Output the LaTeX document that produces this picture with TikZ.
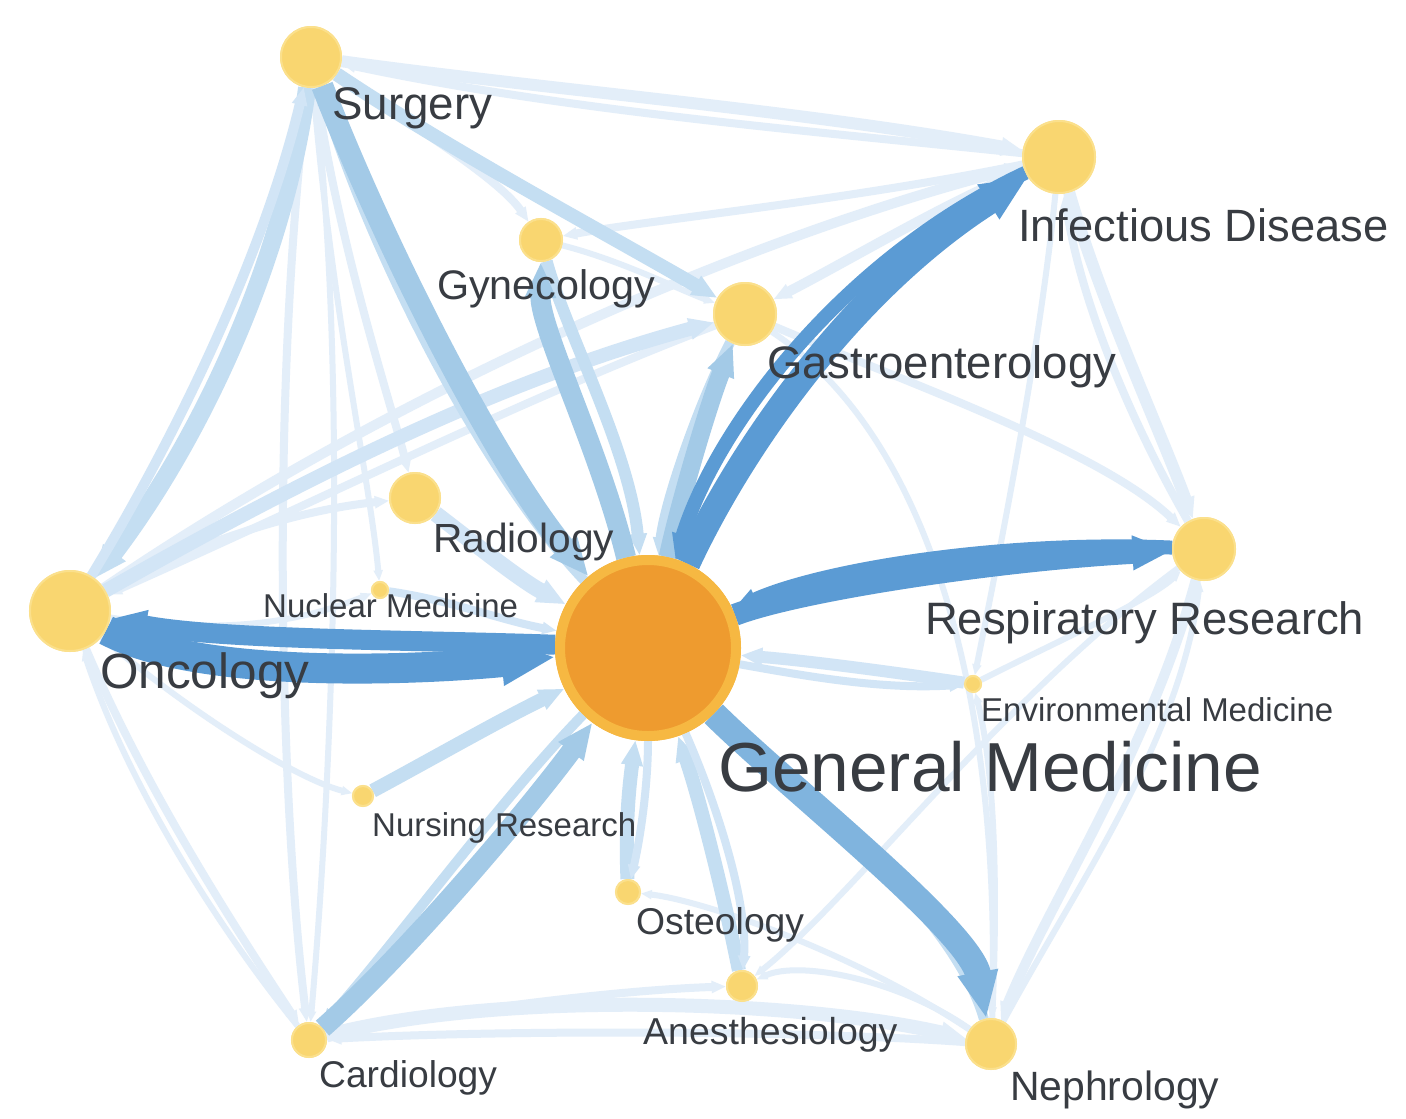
\documentclass[tikz,border=0pt]{standalone}
\usepackage{fontspec}
\setmainfont{Liberation Sans}
\usetikzlibrary{arrows.meta}
\definecolor{sb}{RGB}{91,155,212}
\definecolor{nb}{RGB}{128,180,222}
\definecolor{mb}{RGB}{163,202,231}
\definecolor{lb}{RGB}{196,222,242}
\definecolor{pb}{RGB}{210,229,246}
\definecolor{fb}{RGB}{227,238,249}
\definecolor{nodey}{RGB}{249,214,112}
\definecolor{nodeb}{RGB}{251,224,140}
\definecolor{gmin}{RGB}{238,155,47}
\definecolor{gmring}{RGB}{246,184,66}
\definecolor{txt}{RGB}{56,60,66}
\begin{document}
\begin{tikzpicture}[x=1pt,y=-1pt,
  dot/.style={circle, fill=nodey, draw=nodeb, line width=2pt, inner sep=0pt},
  lab/.style={anchor=base west, text=txt, inner sep=0pt},
  tip/.style={-{Triangle[length=0pt 1.8, width=0pt 1.45]}},
  se/.style={draw=sb, tip},
  ne/.style={draw=nb, tip},
  me/.style={draw=mb, tip},
  le/.style={draw=lb, tip},
  pe/.style={draw=pb, tip},
  fe/.style={draw=fb, tip},
  fs/.style={font=\fontsize{#1}{#1}\selectfont}
]
\useasboundingbox (0,0) rectangle (1406,1119);
\fill[white] (0,0) rectangle (1406,1119);

% nodes (positions)
\node[dot, minimum size=60] (sur) at (311,57) {};
\node[dot, minimum size=72] (id) at (1059,157) {};
\node[dot, minimum size=42] (gyn) at (541,240) {};
\node[dot, minimum size=62] (gas) at (745,314) {};
\node[dot, minimum size=50] (rad) at (415,498) {};
\node[dot, minimum size=62] (rr) at (1204,549) {};
\node[dot, minimum size=80] (onc) at (70,611) {};
\node[dot, minimum size=16] (nuc) at (380,590) {};
\node[dot, minimum size=16] (env) at (973,684) {};
\node[dot, minimum size=20] (nur) at (363,796) {};
\node[dot, minimum size=24] (ost) at (628,892) {};
\node[dot, minimum size=30] (ane) at (742,986) {};
\node[dot, minimum size=34] (car) at (309,1040) {};
\node[dot, minimum size=50] (nep) at (991,1044) {};
\node[circle, fill=gmin, draw=gmring, line width=10pt, minimum size=176, inner sep=0pt] (gm) at (648,648) {};

% faint peripheral edges
\draw[fe, line width=12pt] (sur) .. controls (550,90) and (800,110) .. (id);
\draw[fe, line width=8pt] (id) .. controls (800,130) and (560,110) .. (sur);
\draw[fe, line width=10pt] (onc) .. controls (350,420) and (700,250) .. (id);
\draw[fe, line width=8pt] (onc) .. controls (150,800) and (250,950) .. (car);
\draw[fe, line width=6pt] (car) .. controls (220,930) and (130,790) .. (onc);
\draw[fe, line width=8pt] (sur) .. controls (270,400) and (280,800) .. (car);
\draw[fe, line width=6pt] (sur) .. controls (350,400) and (330,800) .. (car);
\draw[fe, line width=12pt] (id) .. controls (1100,300) and (1160,430) .. (rr);
\draw[fe, line width=8pt] (rr) .. controls (1130,420) and (1080,300) .. (id);
\draw[fe, line width=10pt] (rr) .. controls (1150,750) and (1050,900) .. (nep);
\draw[fe, line width=6pt] (nep) .. controls (1080,880) and (1180,740) .. (rr);
\draw[fe, line width=14pt] (car) .. controls (500,990) and (800,1000) .. (nep);
\draw[fe, line width=8pt] (nep) .. controls (800,1030) and (500,1030) .. (car);
\draw[fe, line width=8pt] (car) .. controls (450,1010) and (620,990) .. (ane);
\draw[fe, line width=8pt] (sur) .. controls (340,250) and (390,400) .. (rad);
\draw[fe, line width=6pt] (sur) .. controls (330,300) and (370,480) .. (nuc);
\draw[fe, line width=10pt] (id) .. controls (950,200) and (850,260) .. (gas);
\draw[fe, line width=8pt] (gas) .. controls (900,380) and (1100,450) .. (rr);
\draw[fe, line width=8pt] (onc) .. controls (200,540) and (300,510) .. (rad);
\draw[fe, line width=8pt] (id) .. controls (850,200) and (650,220) .. (gyn);
\draw[fe, line width=6pt] (nep) .. controls (900,980) and (800,960) .. (ane);
\draw[fe, line width=6pt] (nep) .. controls (850,950) and (700,900) .. (ost);
\draw[fe, line width=6pt] (nep) .. controls (1000,850) and (990,750) .. (env);
\draw[fe, line width=6pt] (onc) .. controls (200,720) and (300,780) .. (nur);
\draw[fe, line width=8pt] (sur) .. controls (420,130) and (500,180) .. (gyn);
\draw[fe, line width=6pt] (gyn) .. controls (620,260) and (680,290) .. (gas);
\draw[fe, line width=6pt] (env) .. controls (1060,640) and (1150,600) .. (rr);
\draw[fe, line width=6pt] (id) .. controls (1040,350) and (1000,550) .. (env);
\draw[fe, line width=6pt] (rr) .. controls (1000,700) and (850,900) .. (ane);
\draw[fe, line width=6pt] (gas) .. controls (950,450) and (1000,750) .. (nep);
\draw[fe, line width=6pt] (onc) .. controls (250,640) and (330,610) .. (nuc);
\draw[fe, line width=8pt] (gas) .. controls (520,400) and (320,500) .. (onc);

% light / medium peripheral edges
\draw[le, line width=18pt] (sur) .. controls (285,260) and (200,440) .. (onc);
\draw[pe, line width=10pt] (onc) .. controls (180,430) and (265,250) .. (sur);
\draw[le, line width=14pt] (sur) .. controls (450,150) and (600,230) .. (gas);
\draw[pe, line width=14pt] (onc) .. controls (300,480) and (500,380) .. (gas);

% edges to/from General Medicine
\draw[pe, line width=8pt] (nuc) .. controls (450,600) and (500,620) .. (gm);
\draw[pe, line width=16pt] (rad) .. controls (470,540) and (520,580) .. (gm);
\draw[le, line width=14pt] (nur) .. controls (430,760) and (500,720) .. (gm);
\draw[le, line width=14pt] (ost) .. controls (625,820) and (630,780) .. (gm);
\draw[pe, line width=8pt] (gm) .. controls (648,780) and (642,830) .. (ost);
\draw[le, line width=14pt] (ane) .. controls (725,900) and (700,800) .. (gm);
\draw[pe, line width=8pt] (gm) .. controls (715,800) and (748,900) .. (ane);
\draw[pe, line width=12pt] (env) .. controls (880,670) and (800,660) .. (gm);
\draw[pe, line width=8pt] (gm) .. controls (800,675) and (880,690) .. (env);

\draw[le, line width=10pt] (gm) .. controls (480,470) and (370,250) .. (sur);
\draw[me, line width=22pt] (sur) .. controls (390,260) and (500,470) .. (gm);
\draw[le, line width=12pt] (gyn) .. controls (565,330) and (630,450) .. (gm);
\draw[me, line width=20pt] (gm) .. controls (600,450) and (540,330) .. (gyn);
\draw[le, line width=10pt] (gas) .. controls (700,400) and (665,500) .. (gm);
\draw[me, line width=18pt] (gm) .. controls (680,500) and (710,400) .. (gas);
\draw[le, line width=10pt] (gm) .. controls (500,800) and (390,950) .. (car);
\draw[me, line width=20pt] (car) .. controls (400,960) and (520,820) .. (gm);

\draw[le, line width=10pt] (nep) .. controls (950,900) and (760,760) .. (gm);
\draw[ne, line width=26pt] (gm) .. controls (780,780) and (970,930) .. (nep);

\draw[se, line width=20pt] (gm) .. controls (420,640) and (220,640) .. (onc);
\draw[se, line width=30pt] (onc) .. controls (200,680) and (420,670) .. (gm);
\draw[se, line width=14pt] (id) .. controls (840,260) and (715,430) .. (gm);
\draw[se, line width=26pt] (gm) .. controls (740,450) and (850,290) .. (id);
\draw[se, line width=14pt] (rr) .. controls (1000,540) and (820,570) .. (gm);
\draw[se, line width=22pt] (gm) .. controls (800,590) and (1000,560) .. (rr);

% redraw nodes on top
\foreach \n/\x/\y/\s in {sur/311/57/60, id/1059/157/72, gyn/541/240/42, gas/745/314/62,
  rad/415/498/50, rr/1204/549/62, onc/70/611/80, nuc/380/590/16, env/973/684/16,
  nur/363/796/20, ost/628/892/24, ane/742/986/30, car/309/1040/34, nep/991/1044/50}
  \node[dot, minimum size=\s] at (\x,\y) {};
\node[circle, fill=gmin, draw=gmring, line width=10pt, minimum size=176, inner sep=0pt] at (648,648) {};

% labels
\node[lab, fs=45.7] (lsur) at (332,119) {Surgery};
\node[lab, fs=45.3] (lid) at (1018,241) {Infectious Disease};
\node[lab, fs=41.3] (lgyn) at (437,299) {Gynecology};
\node[lab, fs=45.5] (lgas) at (767,378) {Gastroenterology};
\node[lab, fs=40.7] (lrad) at (433,552) {Radiology};
\node[lab, fs=45.4] (lrr) at (925,634) {Respiratory Research};
\node[lab, fs=49.5] (lonc) at (100,688) {Oncology};
\node[lab, fs=33] (lnuc) at (263,617) {Nuclear Medicine};
\node[lab, fs=33] (lenv) at (981,721) {Environmental Medicine};
\node[lab, fs=69.4] (lgm) at (718,791) {General Medicine};
\node[lab, fs=33] (lnur) at (372,836) {Nursing Research};
\node[lab, fs=37.3] (lost) at (636,934) {Osteology};
\node[lab, fs=37.5] (lane) at (643,1044) {Anesthesiology};
\node[lab, fs=37.2] (lcar) at (319,1087) {Cardiology};
\node[lab, fs=40.9] (lnep) at (1010,1100) {Nephrology};
\end{tikzpicture}
\end{document}
